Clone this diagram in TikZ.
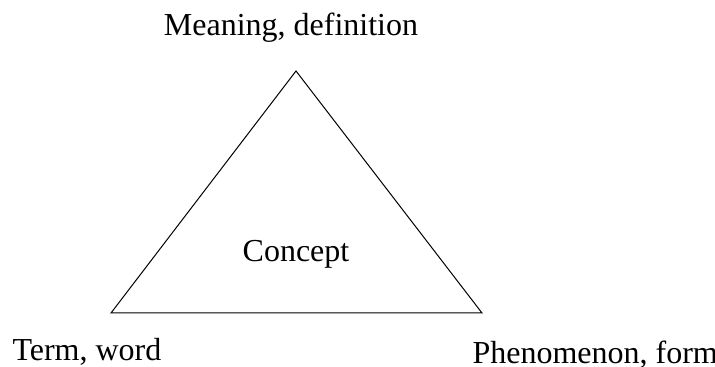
\documentclass[tikz,border=0pt]{standalone}
\usepackage{fontspec}
\setmainfont{Liberation Serif}
\usetikzlibrary{positioning}

\begin{document}
\begin{tikzpicture}[x=0.5pt, y=-0.5pt, line width=0.5pt,
  every node/.style={font=\fontsize{16}{19}\selectfont, inner sep=0pt}]
  \useasboundingbox (0,0) rectangle (715,367);
  \coordinate (top) at (296,71);
  \coordinate (left) at (111,313);
  \coordinate (right) at (482,313);
  \draw (top) -- (left) -- (right) -- cycle;
  \node[anchor=base] (meaning) at (291,36) {Meaning, definition};
  \node[anchor=base west] (term) at (12,360) {Term, word};
  \node[anchor=base west] (phen) at (472,363) {Phenomenon, form};
  \node[anchor=base] (concept) at (296,262) {Concept};
\end{tikzpicture}
\end{document}
